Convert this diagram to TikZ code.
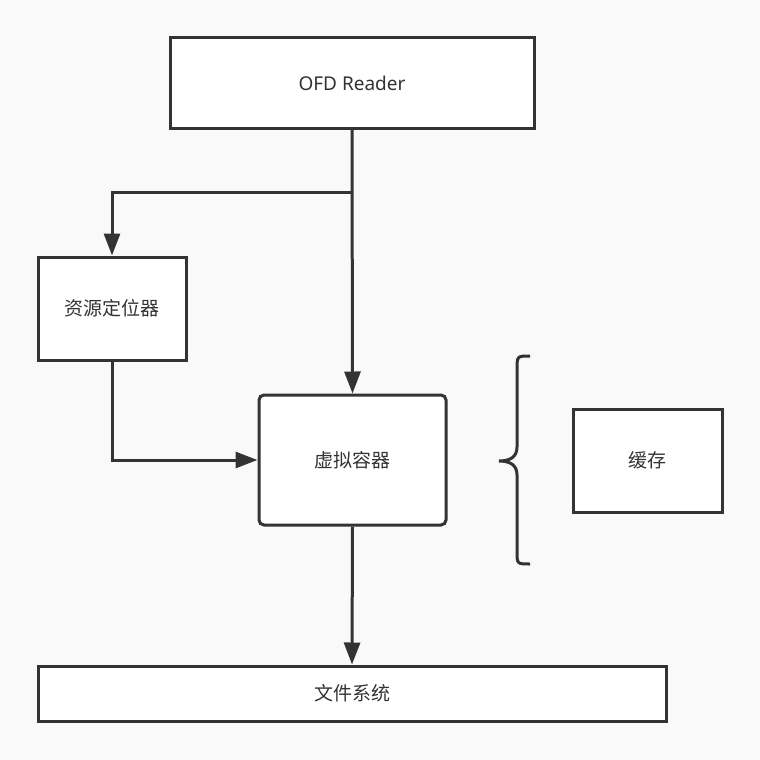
\documentclass[tikz,border=0pt]{standalone}
\usepackage{fontspec}
\setmainfont{Noto Sans}
\newfontfamily\cjk{Noto Sans CJK SC}
\usetikzlibrary{arrows.meta}
\definecolor{ink}{HTML}{333333}
\definecolor{bg}{HTML}{F9F9F9}
\begin{document}
\begin{tikzpicture}[x=1pt,y=-1pt,
  box/.style={draw=ink,line width=3pt,fill=white,inner sep=0pt,text=ink,font=\fontsize{19}{22}\selectfont\cjk},
  arr/.style={draw=ink,line width=3pt,-{Triangle[length=22pt,width=16pt]}},
  brace/.style={draw=ink,line width=3pt}]
\fill[bg] (0,0) rectangle (760,760);
\useasboundingbox (0,0) rectangle (760,760);
\node[box,minimum width=364pt,minimum height=90pt,font=\fontsize{19}{22}\selectfont] (ofd) at (352,83) {OFD Reader};
\node[box,minimum width=148pt,minimum height=103pt] (res) at (112,308.5) {资源定位器};
\node[box,minimum width=187pt,minimum height=130pt,rounded corners=5pt] (vc) at (352.5,460) {虚拟容器};
\node[box,minimum width=149pt,minimum height=103pt] (cache) at (647.5,460.5) {缓存};
\node[box,minimum width=628pt,minimum height=55pt] (fs) at (352,693.5) {文件系统};
\coordinate (br) at (352,192);
\draw[arr] (ofd.south) -- (vc.north);
\draw[arr] (br) -| (res.north);
\draw[arr] (res.south) |- (vc.west);
\draw[arr] (vc.south) -- (fs.north);
\draw[brace] (530,356) .. controls (517,356) .. (517,370) -- (517,447)
  .. controls (517,457) and (510,461) .. (499,461)
  .. controls (510,461) and (517,465) .. (517,475) -- (517,551)
  .. controls (517,564) .. (530,564);
\end{tikzpicture}
\end{document}
